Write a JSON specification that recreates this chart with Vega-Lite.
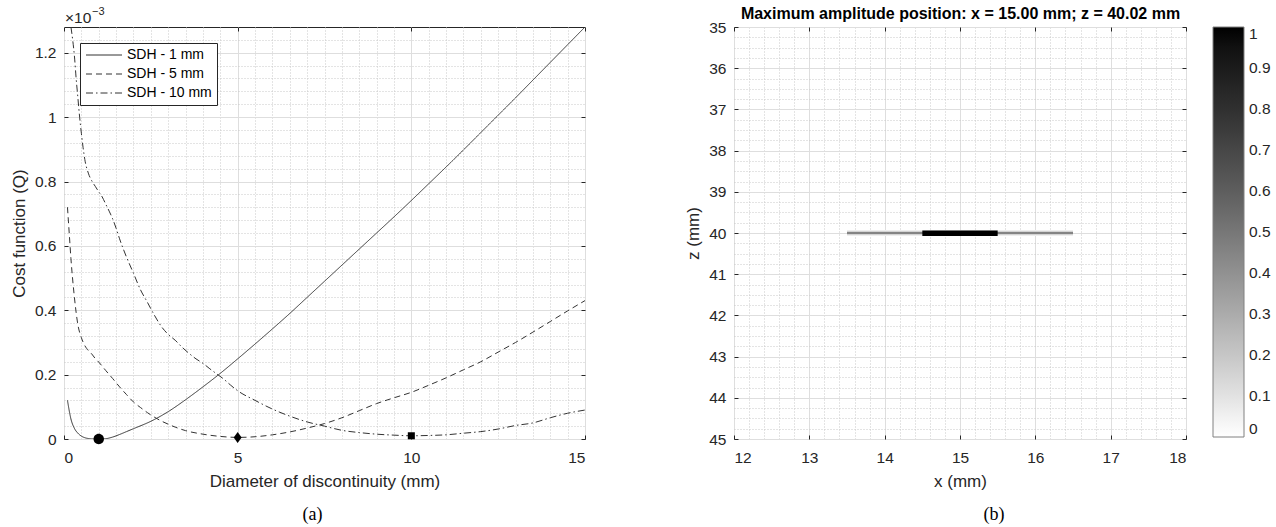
{
  "$schema": "https://vega.github.io/schema/vega-lite/v6.json",
  "padding": {"left": 9, "top": 5, "right": 5, "bottom": 2},
  "bounds": "flush",
  "spacing": 149,
  "config": {
    "font": "Liberation Sans",
    "view": {"stroke": "#262626", "strokeWidth": 1},
    "axis": {
      "domain": false,
      "labelColor": "#262626",
      "titleColor": "#262626",
      "labelFontSize": 15.5,
      "titleFontSize": 17,
      "titleFontWeight": "normal",
      "tickColor": "#262626",
      "gridColor": "#dedede"
    }
  },
  "datasets": {
    "curves": [
      {"s": "SDH - 1 mm", "d": 0.1, "q": 0.12},
      {"s": "SDH - 1 mm", "d": 0.2, "q": 0.062},
      {"s": "SDH - 1 mm", "d": 0.3, "q": 0.033},
      {"s": "SDH - 1 mm", "d": 0.4, "q": 0.018},
      {"s": "SDH - 1 mm", "d": 0.5, "q": 0.009},
      {"s": "SDH - 1 mm", "d": 0.6, "q": 0.004},
      {"s": "SDH - 1 mm", "d": 0.7, "q": 0.0015},
      {"s": "SDH - 1 mm", "d": 0.8, "q": 0.0003},
      {"s": "SDH - 1 mm", "d": 0.9, "q": 0},
      {"s": "SDH - 1 mm", "d": 1.0, "q": 0},
      {"s": "SDH - 1 mm", "d": 1.2, "q": 0.001},
      {"s": "SDH - 1 mm", "d": 1.4, "q": 0.006},
      {"s": "SDH - 1 mm", "d": 1.6, "q": 0.014},
      {"s": "SDH - 1 mm", "d": 1.8, "q": 0.023},
      {"s": "SDH - 1 mm", "d": 2.0, "q": 0.032},
      {"s": "SDH - 1 mm", "d": 2.5, "q": 0.055},
      {"s": "SDH - 1 mm", "d": 3.0, "q": 0.085},
      {"s": "SDH - 1 mm", "d": 3.5, "q": 0.122},
      {"s": "SDH - 1 mm", "d": 4.0, "q": 0.162},
      {"s": "SDH - 1 mm", "d": 4.5, "q": 0.204},
      {"s": "SDH - 1 mm", "d": 5.0, "q": 0.249},
      {"s": "SDH - 1 mm", "d": 5.5, "q": 0.295},
      {"s": "SDH - 1 mm", "d": 6.0, "q": 0.342},
      {"s": "SDH - 1 mm", "d": 6.5, "q": 0.39},
      {"s": "SDH - 1 mm", "d": 7.0, "q": 0.44},
      {"s": "SDH - 1 mm", "d": 7.5, "q": 0.49},
      {"s": "SDH - 1 mm", "d": 8.0, "q": 0.54},
      {"s": "SDH - 1 mm", "d": 8.5, "q": 0.59},
      {"s": "SDH - 1 mm", "d": 9.0, "q": 0.64},
      {"s": "SDH - 1 mm", "d": 9.5, "q": 0.69},
      {"s": "SDH - 1 mm", "d": 10.0, "q": 0.741},
      {"s": "SDH - 1 mm", "d": 10.5, "q": 0.793},
      {"s": "SDH - 1 mm", "d": 11.0, "q": 0.845},
      {"s": "SDH - 1 mm", "d": 11.5, "q": 0.898},
      {"s": "SDH - 1 mm", "d": 12.0, "q": 0.952},
      {"s": "SDH - 1 mm", "d": 12.5, "q": 1.006},
      {"s": "SDH - 1 mm", "d": 13.0, "q": 1.06},
      {"s": "SDH - 1 mm", "d": 13.5, "q": 1.115},
      {"s": "SDH - 1 mm", "d": 14.0, "q": 1.17},
      {"s": "SDH - 1 mm", "d": 14.5, "q": 1.225},
      {"s": "SDH - 1 mm", "d": 15.0, "q": 1.28},
      {"s": "SDH - 5 mm", "d": 0.1, "q": 0.72},
      {"s": "SDH - 5 mm", "d": 0.15, "q": 0.64},
      {"s": "SDH - 5 mm", "d": 0.2, "q": 0.56},
      {"s": "SDH - 5 mm", "d": 0.3, "q": 0.44},
      {"s": "SDH - 5 mm", "d": 0.4, "q": 0.355},
      {"s": "SDH - 5 mm", "d": 0.5, "q": 0.315},
      {"s": "SDH - 5 mm", "d": 0.6, "q": 0.29},
      {"s": "SDH - 5 mm", "d": 0.7, "q": 0.275},
      {"s": "SDH - 5 mm", "d": 0.8, "q": 0.264},
      {"s": "SDH - 5 mm", "d": 0.9, "q": 0.25},
      {"s": "SDH - 5 mm", "d": 1.0, "q": 0.239},
      {"s": "SDH - 5 mm", "d": 1.2, "q": 0.213},
      {"s": "SDH - 5 mm", "d": 1.4, "q": 0.188},
      {"s": "SDH - 5 mm", "d": 1.6, "q": 0.162},
      {"s": "SDH - 5 mm", "d": 1.8, "q": 0.138},
      {"s": "SDH - 5 mm", "d": 2.0, "q": 0.115},
      {"s": "SDH - 5 mm", "d": 2.2, "q": 0.098},
      {"s": "SDH - 5 mm", "d": 2.4, "q": 0.082},
      {"s": "SDH - 5 mm", "d": 2.6, "q": 0.068},
      {"s": "SDH - 5 mm", "d": 2.8, "q": 0.056},
      {"s": "SDH - 5 mm", "d": 3.0, "q": 0.046},
      {"s": "SDH - 5 mm", "d": 3.2, "q": 0.037},
      {"s": "SDH - 5 mm", "d": 3.5, "q": 0.026},
      {"s": "SDH - 5 mm", "d": 4.0, "q": 0.015},
      {"s": "SDH - 5 mm", "d": 4.5, "q": 0.008},
      {"s": "SDH - 5 mm", "d": 5.0, "q": 0.005},
      {"s": "SDH - 5 mm", "d": 5.5, "q": 0.007},
      {"s": "SDH - 5 mm", "d": 6.0, "q": 0.013},
      {"s": "SDH - 5 mm", "d": 6.5, "q": 0.022},
      {"s": "SDH - 5 mm", "d": 7.0, "q": 0.034},
      {"s": "SDH - 5 mm", "d": 7.5, "q": 0.048},
      {"s": "SDH - 5 mm", "d": 8.0, "q": 0.066},
      {"s": "SDH - 5 mm", "d": 8.5, "q": 0.088},
      {"s": "SDH - 5 mm", "d": 9.0, "q": 0.11},
      {"s": "SDH - 5 mm", "d": 9.5, "q": 0.128},
      {"s": "SDH - 5 mm", "d": 10.0, "q": 0.145},
      {"s": "SDH - 5 mm", "d": 10.5, "q": 0.167},
      {"s": "SDH - 5 mm", "d": 11.0, "q": 0.19},
      {"s": "SDH - 5 mm", "d": 11.5, "q": 0.215},
      {"s": "SDH - 5 mm", "d": 12.0, "q": 0.24},
      {"s": "SDH - 5 mm", "d": 12.5, "q": 0.27},
      {"s": "SDH - 5 mm", "d": 13.0, "q": 0.3},
      {"s": "SDH - 5 mm", "d": 13.5, "q": 0.332},
      {"s": "SDH - 5 mm", "d": 14.0, "q": 0.365},
      {"s": "SDH - 5 mm", "d": 14.5, "q": 0.398},
      {"s": "SDH - 5 mm", "d": 15.0, "q": 0.43},
      {"s": "SDH - 10 mm", "d": 0.2, "q": 1.28},
      {"s": "SDH - 10 mm", "d": 0.25, "q": 1.24},
      {"s": "SDH - 10 mm", "d": 0.3, "q": 1.19},
      {"s": "SDH - 10 mm", "d": 0.35, "q": 1.12},
      {"s": "SDH - 10 mm", "d": 0.4, "q": 1.06},
      {"s": "SDH - 10 mm", "d": 0.45, "q": 1.0},
      {"s": "SDH - 10 mm", "d": 0.5, "q": 0.95},
      {"s": "SDH - 10 mm", "d": 0.55, "q": 0.905},
      {"s": "SDH - 10 mm", "d": 0.6, "q": 0.868},
      {"s": "SDH - 10 mm", "d": 0.7, "q": 0.826},
      {"s": "SDH - 10 mm", "d": 0.8, "q": 0.802},
      {"s": "SDH - 10 mm", "d": 0.9, "q": 0.785},
      {"s": "SDH - 10 mm", "d": 1.0, "q": 0.768},
      {"s": "SDH - 10 mm", "d": 1.1, "q": 0.752},
      {"s": "SDH - 10 mm", "d": 1.2, "q": 0.73},
      {"s": "SDH - 10 mm", "d": 1.3, "q": 0.708},
      {"s": "SDH - 10 mm", "d": 1.4, "q": 0.684},
      {"s": "SDH - 10 mm", "d": 1.5, "q": 0.655},
      {"s": "SDH - 10 mm", "d": 1.6, "q": 0.622},
      {"s": "SDH - 10 mm", "d": 1.8, "q": 0.565},
      {"s": "SDH - 10 mm", "d": 2.0, "q": 0.515},
      {"s": "SDH - 10 mm", "d": 2.2, "q": 0.464},
      {"s": "SDH - 10 mm", "d": 2.4, "q": 0.425},
      {"s": "SDH - 10 mm", "d": 2.6, "q": 0.385},
      {"s": "SDH - 10 mm", "d": 2.8, "q": 0.35},
      {"s": "SDH - 10 mm", "d": 3.0, "q": 0.325},
      {"s": "SDH - 10 mm", "d": 3.2, "q": 0.307},
      {"s": "SDH - 10 mm", "d": 3.4, "q": 0.285},
      {"s": "SDH - 10 mm", "d": 3.6, "q": 0.266},
      {"s": "SDH - 10 mm", "d": 3.8, "q": 0.249},
      {"s": "SDH - 10 mm", "d": 4.0, "q": 0.235},
      {"s": "SDH - 10 mm", "d": 4.2, "q": 0.218},
      {"s": "SDH - 10 mm", "d": 4.4, "q": 0.202},
      {"s": "SDH - 10 mm", "d": 4.6, "q": 0.186},
      {"s": "SDH - 10 mm", "d": 4.8, "q": 0.167},
      {"s": "SDH - 10 mm", "d": 5.0, "q": 0.15},
      {"s": "SDH - 10 mm", "d": 5.5, "q": 0.12},
      {"s": "SDH - 10 mm", "d": 6.0, "q": 0.093},
      {"s": "SDH - 10 mm", "d": 6.5, "q": 0.071},
      {"s": "SDH - 10 mm", "d": 7.0, "q": 0.053},
      {"s": "SDH - 10 mm", "d": 7.5, "q": 0.04},
      {"s": "SDH - 10 mm", "d": 8.0, "q": 0.027},
      {"s": "SDH - 10 mm", "d": 8.5, "q": 0.02},
      {"s": "SDH - 10 mm", "d": 9.0, "q": 0.015},
      {"s": "SDH - 10 mm", "d": 9.5, "q": 0.012},
      {"s": "SDH - 10 mm", "d": 10.0, "q": 0.01},
      {"s": "SDH - 10 mm", "d": 10.5, "q": 0.011},
      {"s": "SDH - 10 mm", "d": 11.0, "q": 0.013},
      {"s": "SDH - 10 mm", "d": 11.5, "q": 0.018},
      {"s": "SDH - 10 mm", "d": 12.0, "q": 0.023},
      {"s": "SDH - 10 mm", "d": 12.5, "q": 0.031},
      {"s": "SDH - 10 mm", "d": 13.0, "q": 0.042},
      {"s": "SDH - 10 mm", "d": 13.5, "q": 0.05},
      {"s": "SDH - 10 mm", "d": 14.0, "q": 0.066},
      {"s": "SDH - 10 mm", "d": 14.5, "q": 0.08},
      {"s": "SDH - 10 mm", "d": 15.0, "q": 0.09}
    ],
    "minima": [
      {"hole": "1 mm", "d": 1, "q": 0},
      {"hole": "5 mm", "d": 5, "q": 0.005},
      {"hole": "10 mm", "d": 10, "q": 0.01}
    ],
    "base": [{"d": 0, "q": 1.28, "t": "×10"}],
    "power": [{"d": 0, "q": 1.28, "t": "−3"}],
    "halo": [{"x1": 13.5, "x2": 16.5, "z1": 39.93, "z2": 40.07, "v": 0.06}],
    "row": [{"x1": 13.5, "x2": 16.5, "z1": 39.97, "z2": 40.03, "v": 0.45}],
    "peak": [{"x1": 14.5, "x2": 15.5, "z1": 39.94, "z2": 40.07, "v": 1}]
  },
  "hconcat": [
    {
      "width": 521,
      "height": 412,
      "title": {"text": "(a)", "orient": "bottom", "frame": "group", "anchor": "middle", "font": "Liberation Serif", "fontSize": 18, "fontWeight": "normal", "color": "#000000", "dx": -12, "offset": 16},
      "layer": [
        {
          "data": {"name": "curves"},
          "mark": {"type": "line", "strokeWidth": 1, "color": "#333333", "clip": true, "interpolate": "monotone"},
          "encoding": {
            "x": {"field": "d", "type": "quantitative", "scale": {"domain": [0, 15], "nice": false},
              "axis": {"orient": "bottom", "values": [0,0.5,1,1.5,2,2.5,3,3.5,4,4.5,5,5.5,6,6.5,7,7.5,8,8.5,9,9.5,10,10.5,11,11.5,12,12.5,13,13.5,14,14.5,15], "grid": true, "gridDash": [1, 2], "gridColor": "#c9c9c9", "labels": false, "ticks": false, "title": null}},
            "y": {"field": "q", "type": "quantitative", "scale": {"domain": [0, 1.28], "nice": false},
              "axis": {"orient": "left", "values": [0,0.04,0.08,0.12,0.16,0.2,0.24,0.28,0.32,0.36,0.4,0.44,0.48,0.52,0.56,0.6,0.64,0.68,0.72,0.76,0.8,0.84,0.88,0.92,0.96,1,1.04,1.08,1.12,1.16,1.2,1.24], "grid": true, "gridDash": [1, 2], "gridColor": "#c9c9c9", "labels": false, "ticks": false, "title": null}},
            "strokeDash": {"field": "s", "type": "nominal",
              "scale": {"domain": ["SDH - 1 mm", "SDH - 5 mm", "SDH - 10 mm"], "range": [[1, 0], [6, 4], [7, 3, 1.5, 3]]},
              "legend": {"title": null, "orient": "none", "legendX": 16, "legendY": 16, "symbolType": "M-1,0H5", "symbolSize": 144, "symbolStrokeWidth": 1, "symbolStrokeColor": "#333333", "labelFontSize": 14, "labelColor": "#000000", "labelOffset": 28, "rowPadding": 5, "padding": 5, "strokeColor": "#262626", "fillColor": "#ffffff"}}
          }
        },
        {
          "data": {"name": "minima"},
          "mark": {"type": "point", "filled": true, "color": "#000000", "opacity": 1, "size": 121},
          "encoding": {
            "x": {"field": "d", "type": "quantitative", "scale": {"domain": [0, 15], "nice": false},
              "axis": {"orient": "bottom", "values": [0, 5, 10, 15], "grid": true, "tickSize": -4, "labelPadding": 15, "title": "Diameter of discontinuity (mm)", "titlePadding": 8}},
            "y": {"field": "q", "type": "quantitative", "scale": {"domain": [0, 1.28], "nice": false},
              "axis": {"orient": "left", "values": [0, 0.2, 0.4, 0.6, 0.8, 1, 1.2], "format": "~g", "grid": true, "tickSize": -4, "labelPadding": 12, "title": "Cost function (Q)", "titlePadding": 6}},
            "shape": {"field": "hole", "type": "nominal",
              "scale": {"domain": ["1 mm", "5 mm", "10 mm"], "range": ["M-0.95,0A0.95,0.95,0,1,0,0.95,0A0.95,0.95,0,1,0,-0.95,0Z", "M0,-1L0.72,0L0,1L-0.72,0Z", "M-0.64,-0.64H0.64V0.64H-0.64Z"]}, "legend": null}
          }
        },
        {
          "data": {"name": "base"},
          "mark": {"type": "text", "align": "left", "baseline": "alphabetic", "dx": 1, "dy": -4, "fontSize": 15.5, "color": "#262626"},
          "encoding": {
            "x": {"field": "d", "type": "quantitative", "scale": {"domain": [0, 15], "nice": false},
              "axis": {"orient": "top", "values": [0, 5, 10, 15], "grid": false, "labels": false, "tickSize": -4, "title": null}},
            "y": {"field": "q", "type": "quantitative", "scale": {"domain": [0, 1.28], "nice": false},
              "axis": {"orient": "right", "values": [0, 0.2, 0.4, 0.6, 0.8, 1, 1.2], "grid": false, "labels": false, "tickSize": -4, "title": null}},
            "text": {"field": "t", "type": "nominal"}
          }
        },
        {
          "data": {"name": "power"},
          "mark": {"type": "text", "align": "left", "baseline": "alphabetic", "dx": 28, "dy": -12, "fontSize": 11, "color": "#262626"},
          "encoding": {
            "x": {"field": "d", "type": "quantitative", "scale": {"domain": [0, 15], "nice": false}, "axis": null},
            "y": {"field": "q", "type": "quantitative", "scale": {"domain": [0, 1.28], "nice": false}, "axis": null},
            "text": {"field": "t", "type": "nominal"}
          }
        }
      ],
      "resolve": {"axis": {"x": "independent", "y": "independent"}}
    },
    {
      "width": 452,
      "height": 412,
      "title": {"text": "(b)", "orient": "bottom", "frame": "group", "anchor": "middle", "font": "Liberation Serif", "fontSize": 18, "fontWeight": "normal", "color": "#000000", "dx": 34, "offset": 16},
      "layer": [
        {
          "data": {"name": "halo"},
          "mark": {"type": "rect"},
          "encoding": {
            "x": {"field": "x1", "type": "quantitative", "scale": {"domain": [12, 18], "nice": false},
              "axis": {"orient": "bottom", "values": [12,12.2,12.4,12.6,12.8,13,13.2,13.4,13.6,13.8,14,14.2,14.4,14.6,14.8,15,15.2,15.4,15.6,15.8,16,16.2,16.4,16.6,16.8,17,17.2,17.4,17.6,17.8,18], "grid": true, "gridDash": [1, 2], "gridColor": "#c9c9c9", "labels": false, "ticks": false, "title": null}},
            "x2": {"field": "x2"},
            "y": {"field": "z1", "type": "quantitative", "scale": {"domain": [35, 45], "nice": false, "reverse": true},
              "axis": {"orient": "left", "values": [35,35.25,35.5,35.75,36,36.25,36.5,36.75,37,37.25,37.5,37.75,38,38.25,38.5,38.75,39,39.25,39.5,39.75,40,40.25,40.5,40.75,41,41.25,41.5,41.75,42,42.25,42.5,42.75,43,43.25,43.5,43.75,44,44.25,44.5,44.75,45], "grid": true, "gridDash": [1, 2], "gridColor": "#c9c9c9", "labels": false, "ticks": false, "title": null}},
            "y2": {"field": "z2"},
            "color": {"field": "v", "type": "quantitative", "scale": {"domain": [0, 1], "range": ["#ffffff", "#000000"]},
              "legend": {"title": null, "orient": "right", "offset": 26, "direction": "vertical", "gradientLength": 410, "gradientThickness": 31, "values": [0,0.1,0.2,0.3,0.4,0.5,0.6,0.7,0.8,0.9,1], "format": "~g", "labelFontSize": 15.5, "labelColor": "#262626", "labelOffset": 5, "gradientStrokeColor": "#808080", "gradientStrokeWidth": 1, "labelOverlap": false}}
          }
        },
        {
          "data": {"name": "row"},
          "mark": {"type": "rect"},
          "encoding": {
            "x": {"field": "x1", "type": "quantitative", "scale": {"domain": [12, 18], "nice": false},
              "axis": {"orient": "bottom", "values": [12, 13, 14, 15, 16, 17, 18], "format": "d", "grid": true, "tickSize": -4, "labelPadding": 15, "title": "x (mm)", "titlePadding": 8}},
            "x2": {"field": "x2"},
            "y": {"field": "z1", "type": "quantitative", "scale": {"domain": [35, 45], "nice": false, "reverse": true},
              "axis": {"orient": "left", "values": [35, 36, 37, 38, 39, 40, 41, 42, 43, 44, 45], "format": "d", "grid": true, "tickSize": -4, "labelPadding": 12, "title": "z (mm)", "titlePadding": 6}},
            "y2": {"field": "z2"},
            "color": {"field": "v", "type": "quantitative", "scale": {"domain": [0, 1], "range": ["#ffffff", "#000000"]}}
          }
        },
        {
          "data": {"name": "peak"},
          "mark": {"type": "rect"},
          "encoding": {
            "x": {"field": "x1", "type": "quantitative", "scale": {"domain": [12, 18], "nice": false},
              "axis": {"orient": "top", "values": [12, 13, 14, 15, 16, 17, 18], "grid": false, "labels": false, "tickSize": -4, "title": "Maximum amplitude position: x = 15.00 mm; z = 40.02 mm", "titleFontWeight": "bold", "titleFontSize": 16, "titleColor": "#000000", "titlePadding": 5}},
            "x2": {"field": "x2"},
            "y": {"field": "z1", "type": "quantitative", "scale": {"domain": [35, 45], "nice": false, "reverse": true},
              "axis": {"orient": "right", "values": [35, 36, 37, 38, 39, 40, 41, 42, 43, 44, 45], "grid": false, "labels": false, "tickSize": -4, "title": null}},
            "y2": {"field": "z2"},
            "color": {"field": "v", "type": "quantitative", "scale": {"domain": [0, 1], "range": ["#ffffff", "#000000"]}}
          }
        }
      ],
      "resolve": {"axis": {"x": "independent", "y": "independent"}}
    }
  ]
}
